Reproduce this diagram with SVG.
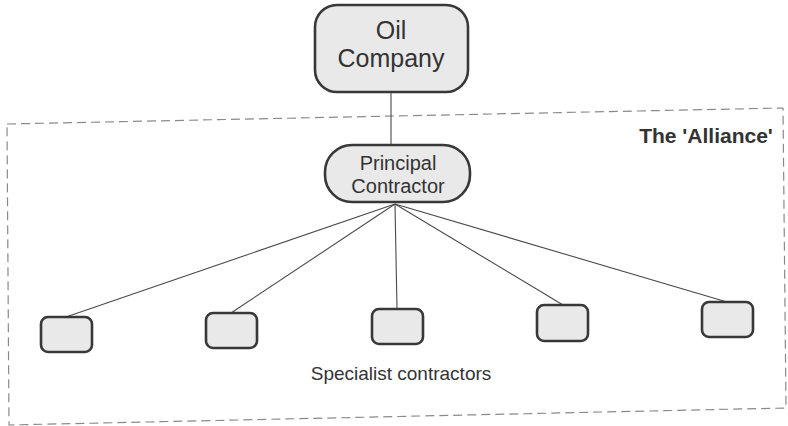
<svg xmlns="http://www.w3.org/2000/svg" width="788" height="426" viewBox="0 0 788 426">
<style>
.box{fill:#e9e9e9;stroke:#383838;stroke-width:2.6}
.conn{stroke:#4a4a4a;stroke-width:1.1;fill:none}
.t{font-family:"Liberation Sans",Arial,sans-serif;fill:#333;text-anchor:middle}
.frame{fill:none;stroke:#8a8a8a;stroke-width:1.2;stroke-dasharray:9 5}
</style>
<rect width="788" height="426" fill="#fff"/>
<path class="frame" d="M7,124 L783,108 L786,408 L9,425 Z"/>
<text class="t" x="706" y="143" style="font-weight:bold;font-size:21px">The 'Alliance'</text>
<g id="connectors">
<line class="conn" x1="391" y1="92" x2="391" y2="145"/>
<line class="conn" x1="395" y1="204" x2="66" y2="317"/>
<line class="conn" x1="395" y1="204" x2="231" y2="313"/>
<line class="conn" x1="395" y1="204" x2="397" y2="309"/>
<line class="conn" x1="395" y1="204" x2="563" y2="305"/>
<line class="conn" x1="395" y1="204" x2="727" y2="302"/>
</g>
<g id="oil-company">
<rect class="box" x="315" y="5" width="153" height="87" rx="22"/>
<text class="t" x="391" y="39" style="font-size:25px">Oil</text>
<text class="t" x="391" y="67" style="font-size:25px">Company</text>
</g>
<g id="principal-contractor">
<rect class="box" x="325" y="145" width="145" height="57" rx="27"/>
<text class="t" x="398" y="170" style="font-size:20px">Principal</text>
<text class="t" x="398" y="193" style="font-size:20px">Contractor</text>
</g>
<g id="specialist-1"><rect class="box" x="41" y="317" width="51" height="35" rx="7"/></g>
<g id="specialist-2"><rect class="box" x="206" y="313" width="51" height="35" rx="7"/></g>
<g id="specialist-3"><rect class="box" x="372" y="309" width="51" height="35" rx="7"/></g>
<g id="specialist-4"><rect class="box" x="537" y="305" width="51" height="36" rx="7"/></g>
<g id="specialist-5"><rect class="box" x="702" y="302" width="51" height="35" rx="7"/></g>
<text class="t" x="401" y="380" style="font-size:19px">Specialist contractors</text>
</svg>
